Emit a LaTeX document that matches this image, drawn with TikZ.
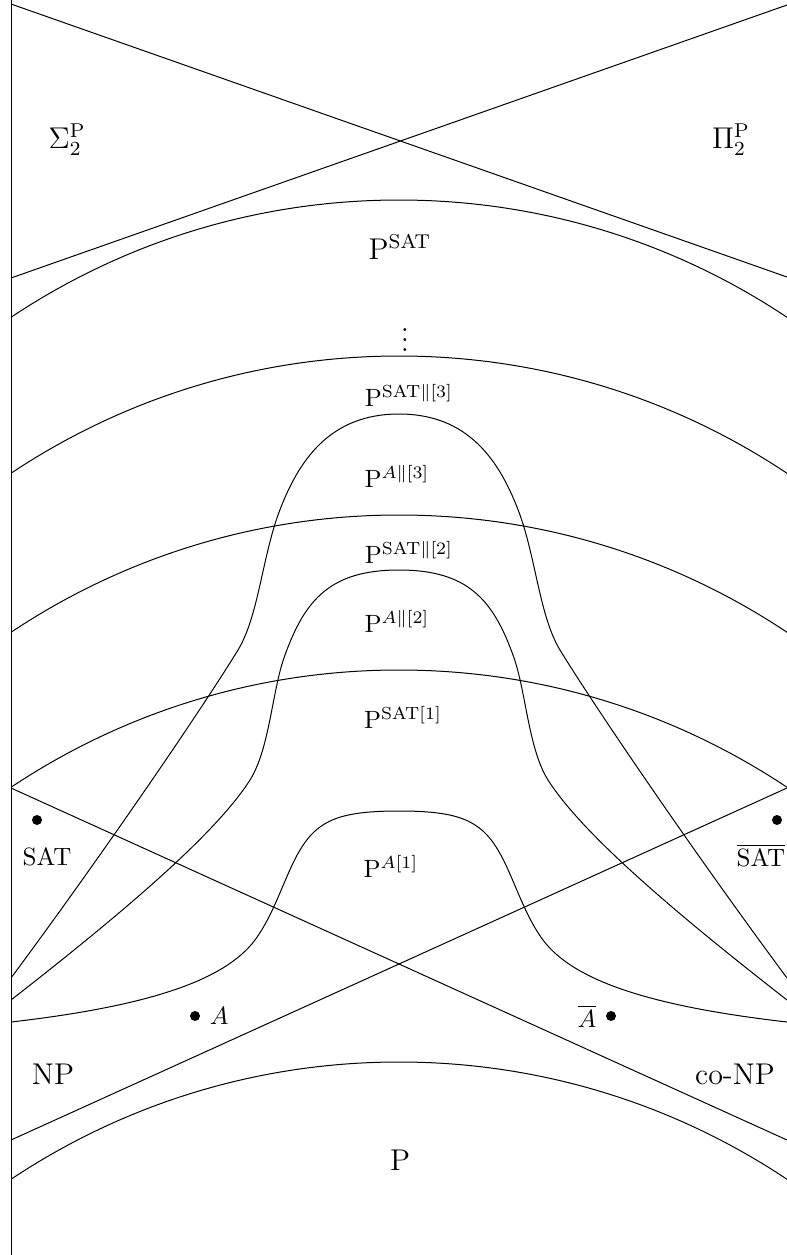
\documentclass[tikz,border=0pt]{standalone}
\usepackage{amsmath}
\usepackage{amssymb}
\usepackage{tikz}
\usetikzlibrary{positioning}

\begin{document}
\begin{tikzpicture}[x=0.4pt, y=-0.4pt,
		lbl/.style={inner sep=0pt, font=\normalsize},
		biglbl/.style={inner sep=0pt, font=\large},
		dot/.style={circle, fill, inner sep=0pt, minimum size=4pt},
		]
		\useasboundingbox (0,0) rectangle (787,1255);
		
		% Left edge
		\draw (11,0) -- (11,1255);
		
		\begin{scope}
			\clip (11,0) rectangle (787,1255);
			% Sigma/Pi and NP/co-NP crossings
			\draw (11,4) -- (787,277);
			\draw (11,278) -- (787,5);
			\draw (11,788) -- (787,1140);
			\draw (11,1140) -- (787,788);
			
			% Levels P^SAT ... P
			\foreach \top in {200,356,515,670,1062}
				\draw (399,\top+700) circle[radius=700];
			
			% A-levels
			\draw (11,1022) .. controls (150,1006) and (225,980) .. (255,940)
				.. controls (275,913) and (285,875) .. (300,850)
				.. controls (318,820) and (340,811) .. (399,811)
				.. controls (458,811) and (480,820) .. (498,850)
				.. controls (513,875) and (523,913) .. (543,940)
				.. controls (573,980) and (648,1006) .. (787,1022);
			\draw (11,1000) .. controls (120,915) and (215,835) .. (250,780)
				.. controls (270,748) and (272,690) .. (285,655)
				.. controls (305,600) and (330,570) .. (399,570)
				.. controls (468,570) and (493,600) .. (513,655)
				.. controls (526,690) and (528,748) .. (548,780)
				.. controls (583,835) and (678,915) .. (787,1000);
			\draw (11,978) .. controls (100,858) and (200,712) .. (238,650)
				.. controls (258,617) and (262,560) .. (278,515)
				.. controls (298,460) and (330,414) .. (399,414)
				.. controls (468,414) and (500,460) .. (520,515)
				.. controls (536,560) and (540,617) .. (560,650)
				.. controls (598,712) and (698,858) .. (787,978);
		\end{scope}
		
		% Class labels
		\node[biglbl] (sig)  at (67,140)   {$\Sigma_2^{\mathrm{P}}$};
		\node[biglbl] (pi)   at (731,140)  {$\Pi_2^{\mathrm{P}}$};
		\node[biglbl] (psat) at (400,247)  {$\mathrm{P}^{\mathrm{SAT}}$};
		\node[biglbl] (dots) at (405,333)  {$\vdots$};
		\node[lbl] (sat3) at (409,395) {$\mathrm{P}^{\mathrm{SAT}\|[3]}$};
		\node[lbl] (a3)   at (397,476) {$\mathrm{P}^{A\|[3]}$};
		\node[lbl] (sat2) at (409,552) {$\mathrm{P}^{\mathrm{SAT}\|[2]}$};
		\node[lbl] (a2)   at (397,621) {$\mathrm{P}^{A\|[2]}$};
		\node[lbl] (sat1) at (403,717) {$\mathrm{P}^{\mathrm{SAT}[1]}$};
		\node[lbl] (a1)   at (391,866) {$\mathrm{P}^{A[1]}$};
		\node[biglbl] (np)   at (53,1074)  {NP};
		\node[biglbl] (conp) at (735,1074) {co-NP};
		\node[biglbl] (p)    at (400,1160) {P};
		
		% Sets
		\node[dot] (satdot) at (37,820) {};
		\node[lbl] (satl) at (47,857) {SAT};
		\node[dot] (cosatdot) at (777,820) {};
		\node[lbl] (cosatl) at (761,855) {$\overline{\mathrm{SAT}}$};
		\node[dot] (adot) at (195,1016) {};
		\node[lbl, right=3.5pt of adot] (al) {$A$};
		\node[dot] (coadot) at (611,1016) {};
		\node[lbl, left=3.5pt of coadot] (coal) {$\overline{A}$};
	\end{tikzpicture}
\end{document}
